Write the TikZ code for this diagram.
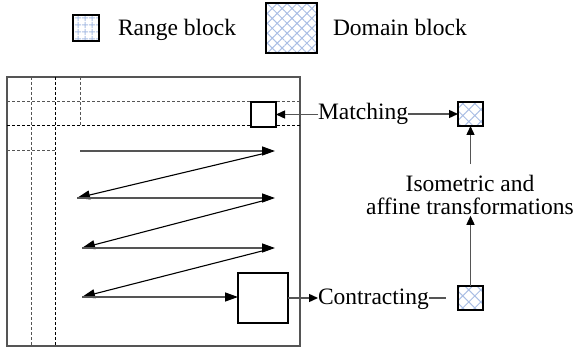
\documentclass[tikz,border=0pt]{standalone}
\usepackage{fontspec}
\setmainfont{Liberation Serif}
\usetikzlibrary{arrows.meta,patterns.meta}
\definecolor{pat}{RGB}{170,190,228}
\definecolor{ln}{RGB}{85,85,85}
\begin{document}
\begin{tikzpicture}[x=1pt,y=-1pt,
  txt/.style={inner sep=0pt,outer sep=0pt,font=\fontsize{23.5}{23}\selectfont},
  blk/.style={draw=black,line width=2.2pt,inner sep=0pt,outer sep=0pt},
  rngpat/.style={blk,pattern={Hatch[angle=0,distance=6.5pt,line width=1pt]},pattern color=pat},
  dompat/.style={blk,pattern={Hatch[angle=45,distance=#1,line width=1pt]},pattern color=pat},
  frm/.style={draw=ln,line width=1.4pt},
  dsh/.style={line width=1pt,dash pattern=on 3pt off 2pt},
  zz/.style={draw=ln,line width=1.4pt,-{Triangle[length=13pt,width=9pt,color=black]}},
  con/.style={draw=ln,line width=1.4pt,-{Triangle[length=9pt,width=8pt,color=black]}},
  plain/.style={draw=ln,line width=1.4pt}
]
\useasboundingbox (0,0) rectangle (579,350);

% legend
\node[rngpat,minimum size=26pt] (lr) at (86,28) {};
\node[txt,anchor=base west] (lrt) at (118,36) {Range block};
\node[dompat=7pt,minimum width=51pt,minimum height=50pt] (ld) at (291.5,28) {};
\node[txt,anchor=base west] (ldt) at (333,36) {Domain block};

% frame
\draw[frm] (7,77) rectangle (300,346);
\draw[dsh,draw=ln] (31,77) -- (31,346);
\draw[dsh,draw=black] (55,77) -- (55,346);
\draw[dsh,draw=ln] (80,77) -- (80,126);
\draw[dsh,draw=ln] (7,102) -- (300,102);
\draw[dsh,draw=black] (7,126) -- (300,126);
\draw[dsh,draw=ln] (7,151) -- (55,151);

% blocks in frame
\node[blk,fill=white,minimum size=25pt] (rb) at (263.5,114.5) {};
\node[blk,fill=white,minimum size=50pt] (big) at (263,298) {};

% zigzag
\coordinate (a1) at (80,151);
\coordinate (b1) at (275,151);
\coordinate (b1s) at (268,152.5);
\coordinate (c1) at (77,198);
\coordinate (d1) at (275,198);
\coordinate (d1s) at (268,199.5);
\coordinate (e1) at (82,248);
\coordinate (f1) at (275,248);
\coordinate (f1s) at (268,249.5);
\coordinate (g1) at (82,297);
\draw[zz] (a1) -- (b1);
\draw[zz,draw=black,line width=1.1pt] (b1s) -- (c1);
\draw[zz] (c1) -- (d1);
\draw[zz,draw=black,line width=1.1pt] (d1s) -- (e1);
\draw[zz] (e1) -- (f1);
\draw[zz,draw=black,line width=1.1pt] (f1s) -- (g1);
\draw[zz] (g1) -- (g1 -| big.west);

% right side
\node[txt,anchor=base west] (match) at (318,120) {Matching};
\node[txt,anchor=base west] (contr) at (318,305) {Contracting};
\node[txt,align=center] (iso) at (470,195) {Isometric and\\affine transformations};
\node[dompat=8.5pt,minimum width=25pt,minimum height=24pt] (dtop) at (470.5,114) {};
\node[dompat=8.5pt,minimum width=25pt,minimum height=24pt] (dbot) at (470.5,298) {};
\coordinate (cend) at (446,298);

\draw[con] (match.west |- rb.east) -- (rb.east);
\draw[con] (match.east |- dtop.west) -- (dtop.west);
\draw[con] (big.east) -- (big.east -| contr.west);
\draw[plain] (contr.east |- cend) -- (cend);
\draw[con] (dbot.north) -- ([yshift=-1pt]iso.south -| dbot.north);
\draw[con] ([yshift=11pt]iso.north -| dtop.south) -- (dtop.south);
\end{tikzpicture}
\end{document}
